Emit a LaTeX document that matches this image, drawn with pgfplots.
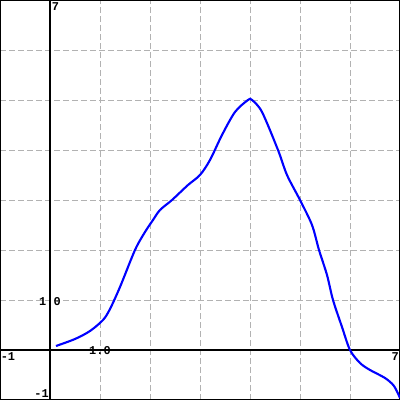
\documentclass[border=0pt]{standalone}
\usepackage{fontspec}
\setmonofont{Liberation Mono}
\usepackage{pgfplots}
\pgfplotsset{compat=1.18}

\begin{document}
\begin{tikzpicture}
\begin{axis}[
    scale only axis,
    width=10cm, height=10cm,
    xmin=-1, xmax=7,
    ymin=-1, ymax=7,
    xtick={-1,0,...,7}, ytick={-1,0,...,7},
    xticklabels={}, yticklabels={},
    major tick length=0pt,
    grid=major,
    major grid style={gray!60, line width=0.7pt, dash pattern=on 4.3pt off 2.1pt},
    axis line style={black, line width=1.2pt},
    clip=false,
]
    % axes through the origin
    \draw[black, line width=0.8pt] (axis cs:-1,0) -- (axis cs:7,0);
    \draw[black, line width=0.8pt] (axis cs:0,-1) -- (axis cs:0,7);

    \addplot[blue, line width=1.5pt, smooth, tension=0.5] coordinates {
        (0.12,0.08) (0.5,0.22) (0.8,0.38) (1.06,0.6) (1.2,0.82) (1.4,1.26)
        (1.7,2.0) (1.9,2.36) (2.06,2.6) (2.2,2.8) (2.44,3.0) (2.76,3.3)
        (3.0,3.5) (3.2,3.8) (3.44,4.3) (3.7,4.76) (3.96,5.0) (4.04,5.0)
        (4.24,4.76) (4.56,4.0) (4.74,3.5) (5.0,3.0) (5.24,2.5) (5.38,2.0)
        (5.54,1.5) (5.66,1.0) (5.84,0.46) (6.0,0.0) (6.2,-0.26) (6.4,-0.4)
        (6.7,-0.56) (6.88,-0.72) (7.0,-0.96)
    };

    \begin{scope}[every node/.style={font=\ttfamily\bfseries\fontsize{8.5}{10}\selectfont, inner sep=0pt}]
    \node[anchor=north west] at (axis cs:-0.99,-0.04) {-1};
    \node[anchor=north east] at (axis cs:6.98,-0.04) {7};
    \node[anchor=north west] at (axis cs:0.03,6.96) {7};
    \node[anchor=south east] at (axis cs:-0.02,-0.95) {-1};
    \node at (axis cs:1,-0.02) {1.0};
    \node at (axis cs:0,0.97) {1.0};
    \end{scope}
\end{axis}
\pgfresetboundingbox
\path (current axis.south west) rectangle (current axis.north east);
\end{tikzpicture}
\end{document}
